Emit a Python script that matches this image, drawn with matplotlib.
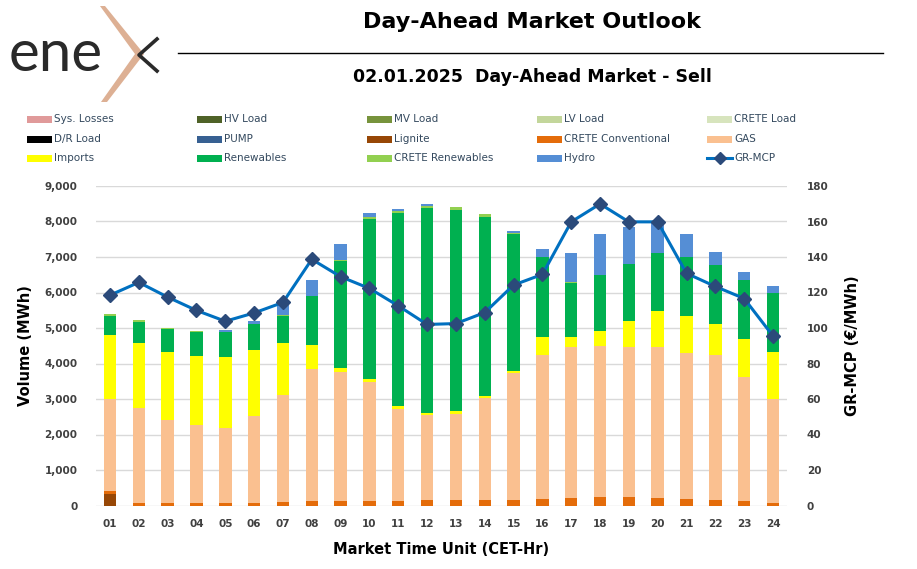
import numpy as np
import matplotlib
matplotlib.use('Agg')
import matplotlib.pyplot as plt
from matplotlib.patches import Rectangle, Polygon
from matplotlib.lines import Line2D

# ---------------- data ----------------
hours = ['01', '02', '03', '04', '05', '06', '07', '08', '09', '10', '11', '12',
         '13', '14', '15', '16', '17', '18', '19', '20', '21', '22', '23', '24']
sys_losses = [0] * 24
hv_load = [0] * 24
mv_load = [0] * 24
lv_load = [0] * 24
crete_load = [0] * 24
dr_load = [0] * 24
pump = [0] * 24
lignite = [317] + [0] * 23
crete_conv = [93, 75, 75, 75, 75, 75, 94, 113, 113, 122, 122, 150,
              160, 150, 160, 179, 216, 235, 235, 216, 188, 160, 122, 75]
gas = [2600, 2670, 2345, 2180, 2105, 2445, 3010, 3725, 3640, 3370, 2605, 2400,
       2425, 2880, 3585, 4070, 4250, 4260, 4235, 4250, 4100, 4080, 3500, 2915]
imports = [1795, 1835, 1890, 1945, 1995, 1855, 1475, 690, 115, 65, 65, 50,
           65, 50, 50, 500, 280, 415, 735, 1015, 1055, 885, 1055, 1345]
renewables = [537, 603, 649, 687, 715, 733, 762, 1365, 3028, 4515, 5437, 5794,
              5681, 5051, 3848, 2239, 1533, 1571, 1590, 1619, 1647, 1645, 1664, 1637]
crete_ren = [47, 38, 28, 28, 10, 15, 15, 20, 28, 47, 60, 47,
             85, 85, 28, 20, 15, 15, 15, 15, 15, 15, 15, 15]
hydro = [0, 0, 0, 0, 55, 80, 430, 430, 440, 120, 50, 55,
         0, 0, 65, 225, 820, 1140, 1040, 885, 635, 350, 220, 200]
mcp = [118.5, 125.7, 117.4, 109.9, 103.8, 108.5, 114.4, 138.7, 128.9, 122.3, 112.5, 102.0,
       102.5, 108.7, 124.2, 130.2, 159.8, 169.9, 159.8, 159.8, 130.8, 123.4, 116.6, 95.5]

series = [
    ('Sys. Losses', sys_losses, '#E09A9A'),
    ('HV Load', hv_load, '#4F6228'),
    ('MV Load', mv_load, '#77933C'),
    ('LV Load', lv_load, '#C3D69B'),
    ('CRETE Load', crete_load, '#D7E4BD'),
    ('D/R Load', dr_load, '#000000'),
    ('PUMP', pump, '#376092'),
    ('Lignite', lignite, '#974706'),
    ('CRETE Conventional', crete_conv, '#E46C0A'),
    ('GAS', gas, '#FAC090'),
    ('Imports', imports, '#FFFF00'),
    ('Renewables', renewables, '#00B050'),
    ('CRETE Renewables', crete_ren, '#92D050'),
    ('Hydro', hydro, '#558ED5'),
]
mcp_line_color = '#0070C0'
mcp_marker_color = '#2B4A7A'

W, H = 917, 569
fig = plt.figure(figsize=(W / 100, H / 100), dpi=100)
plt.rcParams['font.family'] = ['DejaVu Sans']


def fx(px):
    return px / W


def fy(py):
    return 1 - py / H


ax = fig.add_axes([fx(95.6), fy(505.5), fx(787.4) - fx(95.6), fy(186) - fy(505.5)])
x = np.arange(1, 25)
bottom = np.zeros(24)
for name, vals, col in series:
    v = np.array(vals, dtype=float)
    ax.bar(x, v, width=0.43, bottom=bottom, color=col, linewidth=0, zorder=2)
    bottom += v

ax.set_xlim(0.5, 24.5)
ax.set_ylim(0, 9000)
ax.set_yticks(np.arange(0, 9001, 1000))
ax.set_yticklabels([f'{int(t):,}' for t in np.arange(0, 9001, 1000)])
ax.set_xticks(x)
ax.set_xticklabels(hours)
ax.grid(axis='y', color='#D9D9D9', linewidth=1, zorder=0)
ax.set_axisbelow(True)
for s in ax.spines.values():
    s.set_visible(False)
ax.tick_params(axis='both', length=0, labelcolor='#404040', labelsize=7.5)
ax.tick_params(axis='y', pad=13)
ax.tick_params(axis='x', pad=10)
for lab in ax.get_xticklabels() + ax.get_yticklabels():
    lab.set_fontweight('bold')
ax.set_xlabel('Market Time Unit (CET-Hr)', fontsize=10.5, fontweight='bold', labelpad=9)
ax.set_ylabel('Volume (MWh)', fontsize=10.5, fontweight='bold', labelpad=8)

ax2 = ax.twinx()
ax2.plot(x, mcp, color=mcp_line_color, linewidth=2.2, marker='D', markersize=7.5,
         markerfacecolor=mcp_marker_color, markeredgecolor=mcp_marker_color, zorder=5)
ax2.set_ylim(0, 180)
ax2.set_yticks(np.arange(0, 181, 20))
for s in ax2.spines.values():
    s.set_visible(False)
ax2.tick_params(axis='y', length=0, labelcolor='#404040', labelsize=7.5, pad=14)
for lab in ax2.get_yticklabels():
    lab.set_fontweight('bold')
ax2.set_ylabel('GR-MCP (€/MWh)', fontsize=10.5, fontweight='bold', labelpad=12)

# ---------------- titles ----------------
fig.text(fx(532), fy(22), 'Day-Ahead Market Outlook', ha='center', va='center',
         fontsize=16, fontweight='bold', color='black')
fig.text(fx(532), fy(77), '02.01.2025  Day-Ahead Market - Sell', ha='center', va='center',
         fontsize=12.5, fontweight='bold', color='black')
fig.add_artist(Line2D([fx(178), fx(883)], [fy(53), fy(53)], transform=fig.transFigure,
                      color='black', linewidth=1))

# ---------------- logo ----------------
fig.add_artist(Polygon([(fx(100), fy(6)), (fx(105), fy(6)), (fx(144), fy(54)),
                        (fx(107), fy(102)), (fx(101), fy(102)), (fx(135), fy(54))],
                       closed=True, transform=fig.transFigure, facecolor='#DDB094',
                       edgecolor='none'))
fig.text(fx(9), fy(71), 'ene', fontsize=42, fontfamily='Lato', fontweight='normal',
         color='#2A2A2A', va='baseline', ha='left')
fig.add_artist(Line2D([fx(157), fx(139), fx(157)], [fy(39), fy(55), fy(71)],
                      transform=fig.transFigure, color='#2A2A2A', linewidth=2.6))

# ---------------- legend ----------------
col_x = [27, 197, 367, 537, 707]
row_y = [119.3, 139.3, 158.3]
legend_items = [(n, c) for n, _, c in series] + [('GR-MCP', None)]
for i, (name, col) in enumerate(legend_items):
    r, c = divmod(i, 5)
    px, py = col_x[c], row_y[r]
    if col is not None:
        fig.add_artist(Rectangle((fx(px), fy(py + 3.3)), fx(25), 6.6 / H,
                                 transform=fig.transFigure, facecolor=col, edgecolor='none'))
    else:
        fig.add_artist(Line2D([fx(px), fx(px + 25)], [fy(py), fy(py)], transform=fig.transFigure,
                              color=mcp_line_color, linewidth=2.2))
        fig.add_artist(Line2D([fx(px + 12.5)], [fy(py)], transform=fig.transFigure,
                              marker='D', markersize=6.5, color=mcp_marker_color, linestyle='none'))
    fig.text(fx(px + 27), fy(py), name, fontsize=7.5, color='#34495E', va='center', ha='left')

fig.savefig('out.png', dpi=100)
